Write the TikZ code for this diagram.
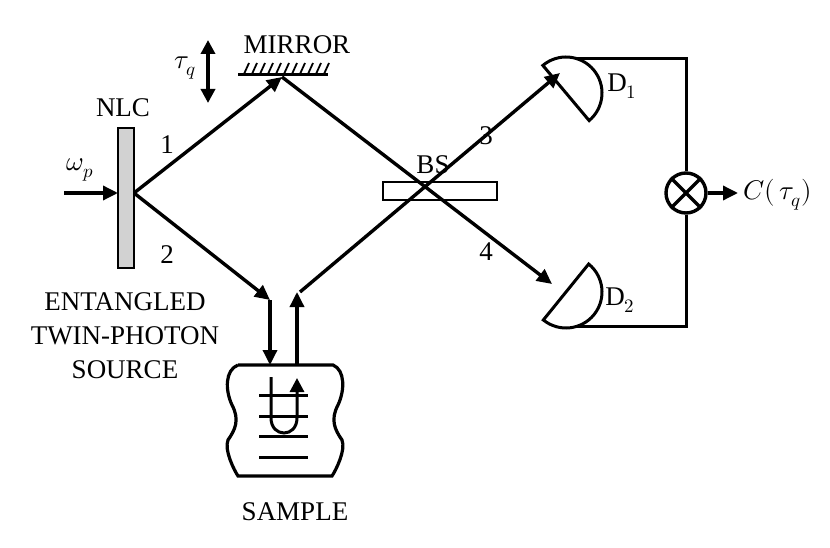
\documentclass[tikz,border=0pt]{standalone}
\usepackage{fontspec}
\setmainfont{Liberation Serif}
\usepackage{unicode-math}
\setmathfont{Latin Modern Math}
\usetikzlibrary{arrows.meta}
\begin{document}
\begin{tikzpicture}[x=1pt,y=-1pt,line width=3.4pt,
  beam/.style={-{Triangle[length=15pt,width=14pt]}},
  lab/.style={font=\fontsize{27}{30}\selectfont,inner sep=0pt},
  thin/.style={line width=3pt}]
\useasboundingbox (0,0) rectangle (830,548);
% NLC
\node[draw,fill=gray!35,line width=2.8pt,minimum width=16pt,minimum height=140pt,inner sep=0pt] (nlc) at (126,198) {};
\coordinate (src) at (134,193);
\coordinate (pin) at (64,193);
\draw[beam] (pin) -- (118,193);
\node[lab] (wp) at (80,170) {$\omega_p$};
\node[lab] (nlcl) at (123,108) {NLC};
% mirror
\coordinate (mL) at (238,75); \coordinate (mR) at (328,75);
\draw[thin] (mL) -- (mR);
\foreach \x in {244,252,...,324} \draw[line width=1.8pt] (\x,74) -- (\x+5,63);
\node[lab] (mirl) at (297,45) {MIRROR};
\coordinate (mhit) at (282,77);
% tau arrow
\draw[{Triangle[length=14pt,width=14pt]}-{Triangle[length=14pt,width=14pt]}] (208,40) -- (208,103);
\node[lab] (tau) at (185,68) {$\tau_q$};
% detectors
\coordinate (d1c) at (566,93);
\draw[line width=3pt] (d1c) ++(50:36) arc[start angle=50,end angle=-130,radius=36] -- cycle;
\coordinate (d2c) at (566,292);
\draw[line width=3pt] (d2c) ++(-51:36) arc[start angle=-51,end angle=129,radius=36] -- cycle;
\node[lab] (d1l) at (622,86) {D$_1$};
\node[lab] (d2l) at (620,300) {D$_2$};
% beams
\draw[beam] (src) -- (mhit);
\draw[beam] (mhit) -- (552,284);
\draw[beam] (src) -- (270,300);
\draw[beam] (270,300) -- (270,365);
\draw[beam] (297,365) -- (297,292);
\draw[beam] (300,292) -- (560,73);
% BS
\fill[white] (384,183) rectangle (496,199);
\draw[line width=2.8pt] (383,182) rectangle (497,200);
\begin{scope}
\clip (383,182) rectangle (497,200);
\draw (mhit) -- (552,284);
\draw (300,292) -- (560,73);
\end{scope}
\node[lab] (bsl) at (433,165) {BS};
\node[lab] (n1) at (167,145) {1};
\node[lab] (n2) at (167,255) {2};
\node[lab] (n3) at (486,136) {3};
\node[lab] (n4) at (486,252) {4};
% wires and multiplier
\node[draw,circle,line width=3.4pt,minimum size=40pt,inner sep=0pt] (mult) at (686,193) {};
\draw (mult.north west) -- (mult.south east) (mult.north east) -- (mult.south west);
\draw[line width=3pt] (d1c) ++(-72:36) coordinate (w1) -- (686,0|-w1) -- (mult.north);
\draw[line width=3pt] (d2c) ++(72:36) coordinate (w2) -- (686,0|-w2) -- (mult.south);
\coordinate (cout) at (738,193);
\draw[beam] (mult.east) -- (cout);
\node[lab,anchor=west] (cl) at (742,195) {$C(\,\tau_q)$};
% source text
\node[lab] (t1) at (125,302) {ENTANGLED};
\node[lab] (t2) at (125,336) {TWIN-PHOTON};
\node[lab] (t3) at (125,370) {SOURCE};
% sample
\draw[line width=3.2pt] (238,365) -- (333,365)
  .. controls (345,370) and (345,390) .. (338,405)
  .. controls (330,420) and (335,430) .. (342,440)
  .. controls (346,450) and (336,470) .. (332,476)
  -- (238,476)
  .. controls (234,470) and (224,450) .. (228,440)
  .. controls (235,430) and (240,420) .. (232,405)
  .. controls (225,390) and (225,370) .. (238,365);
\foreach \y in {395,416,436,457} \draw[line width=3pt] (259,\y) -- (308,\y);
\draw[line width=3pt,-{Triangle[length=14pt,width=14pt]}] (271,377) -- (271,418) .. controls (271,438) and (297,438) .. (297,418) -- (297,378);
\node[lab] (samp) at (295,512) {SAMPLE};
\end{tikzpicture}
\end{document}
